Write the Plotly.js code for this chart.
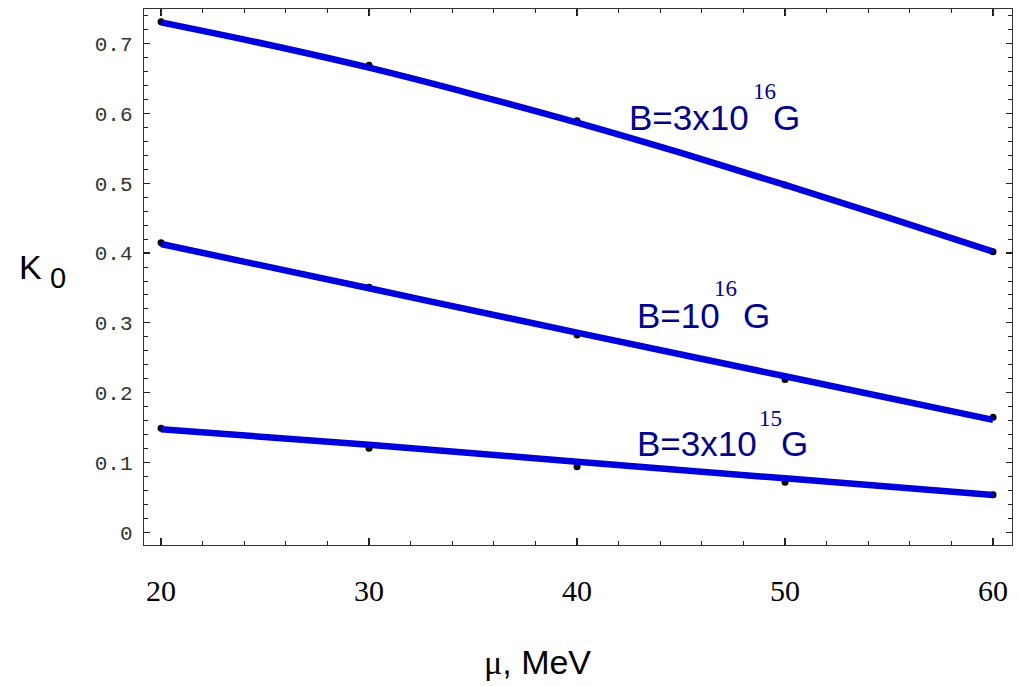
<!DOCTYPE html>
<html>
<head>
<meta charset="utf-8">
<script src="https://cdn.plot.ly/plotly-3.0.1.min.js"></script>
<style>html,body{margin:0;padding:0;background:#fff;}#chart{width:1019px;height:686px;}</style>
</head>
<body>
<div id="chart"></div>
<script>
// Computed points (black dots)
const muPoints = [20, 30, 40, 50, 60];
const dots3e16 = [0.7315, 0.669, 0.5895, 0.4976, 0.402];
const dots1e16 = [0.4149, 0.351, 0.2827, 0.219, 0.1648];
const dots3e15 = [0.149, 0.1203, 0.094, 0.0716, 0.0539];

// Fitted curves (thick blue lines)
const muCurve = [20, 25, 30, 35, 40, 45, 50, 55, 60];
const curve3e16 = [0.7305, 0.6995, 0.6656, 0.6275, 0.587, 0.5435, 0.4976, 0.4505, 0.402];
const muLine = [20, 30, 40, 50, 60];
const curve1e16 = [0.413, 0.3496, 0.286, 0.2235, 0.161];
const curve3e15 = [0.1475, 0.1255, 0.1012, 0.0773, 0.0534];

const xTickVals = [20, 30, 40, 50, 60];
const xTickText = ['20', '30', '40', '50', '60'];
const yTickVals = [0, 0.1, 0.2, 0.3, 0.4, 0.5, 0.6, 0.7];
const yTickText = ['0', '0.1', '0.2', '0.3', '0.4', '0.5', '0.6', '0.7'];

const lineColor = '#0000dc';
const labelColor = '#00008c';

function dotTrace(y) {
  return {x: muPoints, y: y, type: 'scatter', mode: 'markers',
    marker: {color: '#000', size: 7}, hoverinfo: 'skip', showlegend: false, cliponaxis: false};
}
function lineTrace(x, y) {
  return {x: x, y: y, type: 'scatter', mode: 'lines',
    line: {color: lineColor, width: 6.5, shape: 'spline', smoothing: 1}, hoverinfo: 'skip', showlegend: false};
}

const data = [
  dotTrace(dots3e16), dotTrace(dots1e16), dotTrace(dots3e15),
  lineTrace(muCurve, curve3e16), lineTrace(muLine, curve1e16), lineTrace(muLine, curve3e15)
];

const sans = 'Liberation Sans, Arial, sans-serif';
const serif = 'Liberation Serif, Times New Roman, serif';

function lbl(text, x, y, size, family, ref) {
  return {text: text, x: x, y: y, xref: ref ? 'paper' : 'x', yref: ref ? 'paper' : 'y',
    xanchor: 'left', yanchor: 'middle', showarrow: false,
    font: {family: family, size: size, color: ref ? '#000' : labelColor}};
}

const annotations = [
  lbl('B=3x10', 42.40, 0.5936, 35, sans),
  lbl('16', 48.36, 0.632, 23, serif),
  lbl('G', 49.33, 0.5936, 35, sans),

  lbl('B=10', 42.79, 0.3113, 35, sans),
  lbl('16', 46.48, 0.3487, 23, serif),
  lbl('G', 47.87, 0.3113, 35, sans),

  lbl('B=3x10', 42.79, 0.1279, 35, sans),
  lbl('15', 48.66, 0.1635, 23, serif),
  lbl('G', 49.71, 0.1279, 35, sans),

  lbl('K', -0.1465, 0.5195, 34, sans, true),
  lbl('0', -0.1105, 0.4976, 29, sans, true),
  lbl('<span style="font-family:Liberation Serif">μ</span>, MeV', 0.3895, -0.219, 34, sans, true)
];

const axisCommon = {
  showgrid: false, zeroline: false, showline: true, linecolor: '#333', linewidth: 1.3,
  mirror: 'allticks', ticks: 'inside', tickcolor: '#222'
};

const layout = {
  width: 1019, height: 686,
  margin: {l: 144, r: 7, t: 9, b: 141},
  paper_bgcolor: '#fff', plot_bgcolor: '#fff',
  showlegend: false,
  xaxis: Object.assign({}, axisCommon, {
    range: [19.18, 60.91], tickmode: 'array', tickvals: xTickVals, ticktext: xTickText,
    ticklen: 7, tickwidth: 1.6,
    tickfont: {family: 'Liberation Serif', size: 30, color: '#000'},
    ticklabelstandoff: 19,
    minor: {dtick: 2, tick0: 20, ticks: 'inside', ticklen: 4, tickcolor: '#222', tickwidth: 1, showgrid: false}
  }),
  yaxis: Object.assign({}, axisCommon, {
    range: [-0.0182, 0.7497], tickmode: 'array', tickvals: yTickVals, ticktext: yTickText,
    ticklen: 6, tickwidth: 1.2,
    tickfont: {family: 'Liberation Mono, DejaVu Sans Mono, monospace', size: 21, color: '#333'},
    ticklabelstandoff: 6,
    minor: {dtick: 0.02, tick0: 0, ticks: 'inside', ticklen: 4, tickcolor: '#222', tickwidth: 1, showgrid: false}
  }),
  annotations: annotations
};

Plotly.newPlot('chart', data, layout, {staticPlot: true, displayModeBar: false});
</script>
</body>
</html>
